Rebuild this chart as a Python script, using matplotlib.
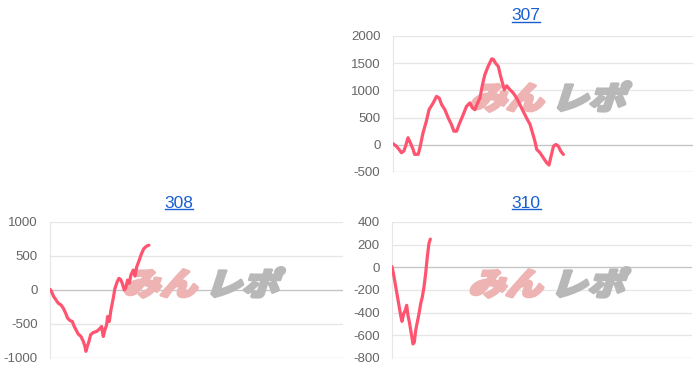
import matplotlib
matplotlib.use("Agg")
import matplotlib.pyplot as plt
from matplotlib.textpath import TextPath
from matplotlib.patches import PathPatch
from matplotlib.font_manager import FontProperties
from matplotlib.transforms import Affine2D, IdentityTransform
from matplotlib.lines import Line2D

plt.rcParams['font.family'] = ['Liberation Sans', 'DejaVu Sans']

# ---- data (x = games played, y = difference in medals) ----
x_307 = [0, 110, 200, 280, 360, 420, 500, 580, 670, 720, 840, 910, 1000, 1110, 1200, 1340,
         1450, 1540, 1620, 1730, 1840, 1950, 2030, 2120, 2200, 2340, 2450, 2560, 2650, 2730,
         2820, 2900, 2970, 3060, 3170, 3290, 3340, 3420, 3510, 3590, 3650, 3710, 3790, 3900,
         4010, 4120, 4230, 4340, 4450, 4570, 4650, 4730, 4790, 4900, 5010, 5120, 5200, 5270,
         5350, 5430, 5510, 5590, 5680]
y_307 = [20, -25, -85, -145, -115, -25, 130, 35, -85, -175, -175, -25, 220, 430, 645, 770,
         890, 860, 740, 645, 495, 370, 250, 250, 370, 555, 707, 770, 677, 645,
         770, 860, 1073, 1287, 1440, 1580, 1573, 1500, 1440, 1256, 1134, 1012, 1085, 1012,
         951, 860, 738, 616, 494, 372, 220, 67, -85, -146, -238, -329, -372, -207,
         -24, 6, -24, -116, -177]

x_308 = [0, 57, 114, 205, 284, 375, 455, 534, 602, 682, 761, 818, 886, 966, 1057, 1136,
         1193, 1227, 1273, 1330, 1386, 1477, 1591, 1682, 1761, 1818, 1875, 1932, 1966, 2023,
         2080, 2159, 2216, 2295, 2352, 2409, 2466, 2534, 2580, 2648, 2705, 2761, 2841, 2898,
         2955, 3045, 3125, 3205, 3295, 3375]
y_308 = [10, -24, -88, -146, -195, -220, -268, -341, -415, -449, -463, -527, -585, -649, -683, -756,
         -829, -902, -829, -756, -659, -624, -610, -576, -537, -683, -585, -512, -390, -463,
         -293, -122, 24, 122, 171, 156, 98, 0, 24, 146, 98, 220, 293, 205,
         332, 439, 537, 610, 644, 659]

x_310 = [0, 67, 144, 222, 289, 333, 389, 444, 489, 533, 589, 644, 700, 744, 789, 844,
         900, 956, 1011, 1067, 1122, 1178, 1233, 1278]
y_310 = [6, -83, -201, -320, -424, -477, -409, -379, -335, -424, -498, -587, -676, -661, -557, -483,
         -409, -320, -261, -172, -53, 95, 213, 249]

titles = ["307", "308", "310"]
yticks_307 = [-500, 0, 500, 1000, 1500, 2000]
yticks_308 = [-1000, -500, 0, 500, 1000]
yticks_310 = [-800, -600, -400, -200, 0, 200, 400]
x_max = 10000

LINE = '#ff5470'
W, H = 700, 376
fig = plt.figure(figsize=(W / 100, H / 100), dpi=100)

panels = [
    ((393, 36, 693, 172), (526, 16), x_307, y_307, yticks_307),
    ((50, 222, 343, 358), (179, 203), x_308, y_308, yticks_308),
    ((392, 222, 692, 358), (526, 203), x_310, y_310, yticks_310),
]

wm_font = FontProperties(family=['Noto Sans CJK JP'], weight='black')

title_texts = []
for (l, t, r, b), (tx, ty), xs, ys, yt in panels:
    ax = fig.add_axes([l / W, 1 - b / H, (r - l) / W, (b - t) / H])
    ax.plot(xs, ys, color=LINE, lw=2.3, zorder=3, solid_joinstyle='round', solid_capstyle='round')
    ax.set_xlim(0, x_max)
    ax.set_ylim(yt[0], yt[-1])
    ax.set_yticks(yt)
    ax.set_yticklabels([str(v) for v in yt])
    ax.set_xticks([])
    ax.tick_params(axis='y', length=0, pad=9, labelsize=9.5, labelcolor='#666666')
    for s in ['top', 'right', 'bottom']:
        ax.spines[s].set_visible(False)
    ax.spines['left'].set_color('#e6e6e6')
    ax.grid(axis='y', color='#e6e6e6', lw=0.9)
    ax.axhline(0, color='#c4c4c4', lw=0.9, zorder=1)
    ax.axhline(yt[0], color='#e0e0e0', lw=0.9, zorder=1)
    ax.set_axisbelow(True)

    # watermark "みんレポ"
    cx = (l + r) / 2
    cy = H - ((t + b) / 2 - 8)
    for txt, col, dx in [("みん", '#eeb4b4', -74), ("レポ", '#b8b8b8', 8)]:
        tp = TextPath((0, 0), txt, size=33, prop=wm_font)
        tr = Affine2D().scale(1.12, 0.95).skew_deg(18, 0).translate(cx + dx, cy - 13) + IdentityTransform()
        ax.add_patch(PathPatch(tp, transform=tr, facecolor=col, edgecolor=col, lw=2.2,
                               joinstyle='round', zorder=2, clip_on=False))

    tt = fig.text(tx / W, 1 - ty / H, titles[len(title_texts)], ha='center', va='center',
                  fontsize=12.5, color='#1a5fd0')
    title_texts.append(tt)

fig.canvas.draw()
renderer = fig.canvas.get_renderer()
for tt in title_texts:
    bb = tt.get_window_extent(renderer)
    y = bb.y0 + 1.5
    fig.add_artist(Line2D([bb.x0, bb.x1], [y, y], transform=IdentityTransform(),
                          color='#1a5fd0', lw=1.0))

fig.savefig('out.png', dpi=100)
